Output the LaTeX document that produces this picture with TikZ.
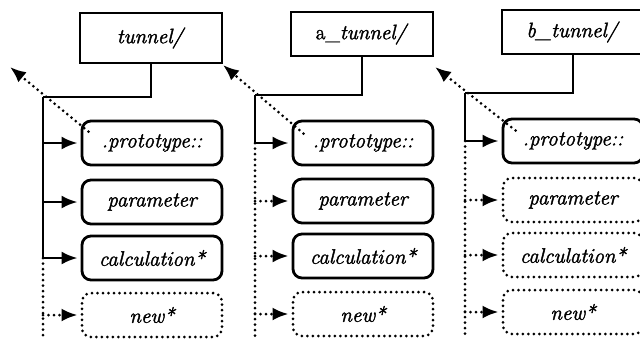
\documentclass[tikz,border=0pt]{standalone}
\usepackage{fontspec}
\setmainfont{Latin Modern Roman}[UprightFeatures={FakeBold=1.8},ItalicFeatures={FakeBold=1.8}]
\usetikzlibrary{arrows.meta,calc}
\newcommand\figfont{\fontsize{21}{25}\selectfont}
\begin{document}
\begin{tikzpicture}[x=1pt,y=-1pt,
  dirbox/.style={draw, line width=2.8pt, minimum width=142pt, minimum height=44pt, inner sep=0pt, font=\figfont},
  filebox/.style={draw, rounded corners=9pt, line width=2.8pt, minimum width=140pt, minimum height=44pt, inner sep=0pt, font=\figfont\itshape},
  dotbox/.style={filebox, line width=3pt, line cap=round, dash pattern=on 0pt off 5.5pt},
  link/.style={line width=2.8pt},
  dotlink/.style={line width=3pt, line cap=round, dash pattern=on 0pt off 5.5pt},
  tip/.style={-{Latex[length=16pt,width=13pt]}},
  short/.style={shorten >=3pt}]
\useasboundingbox (0,0) rectangle (640,338);
\coordinate (bot) at (0,338);
% ---------- column 1
\node[dirbox, minimum height=50pt] (d1) at (151,38) {\textit{tunnel/}};
\node[filebox] (p1) at (152,143) {.prototype::};
\node[filebox] (m1) at (152,202) {parameter};
\node[filebox] (k1) at (152,258) {calculation*};
\node[dotbox]  (n1) at (152,315) {new*};
\coordinate (c1) at (43,97);
\coordinate (t1) at (10,67);
\draw[link] (d1.south) |- (c1);
\draw[link] (c1) -- (c1 |- k1.west);
\draw[dotlink] (c1 |- k1.west) -- (c1 |- bot);
\draw[link,tip,short] (c1 |- p1.west) -- (p1.west);
\draw[link,tip,short] (c1 |- m1.west) -- (m1.west);
\draw[link,tip,short] (c1 |- k1.west) -- (k1.west);
\draw[dotlink,tip,short] (c1 |- n1.west) -- (n1.west);
\draw[dotlink,tip] ($(p1.north west)+(8,12)$) -- (t1);
% ---------- column 2
\node[dirbox] (d2) at (362,34) {a\_\textit{tunnel/}};
\node[filebox] (p2) at (363,143) {.prototype::};
\node[filebox] (m2) at (363,201) {parameter};
\node[filebox] (k2) at (363,256) {calculation*};
\node[dotbox]  (n2) at (363,314) {new*};
\coordinate (c2) at (255,95);
\coordinate (t2) at (223,65);
\draw[link] (d2.south) |- (c2);
\draw[link] (c2) -- (c2 |- p2.west);
\draw[dotlink] (c2 |- p2.west) -- (c2 |- bot);
\draw[link,tip,short] (c2 |- p2.west) -- (p2.west);
\draw[dotlink,tip,short] (c2 |- m2.west) -- (m2.west);
\draw[dotlink,tip,short] (c2 |- k2.west) -- (k2.west);
\draw[dotlink,tip,short] (c2 |- n2.west) -- (n2.west);
\draw[dotlink,tip] ($(p2.north west)+(12,14)$) -- (t2);
% ---------- column 3
\node[dirbox] (d3) at (573,32) {\textit{b\_tunnel/}};
\node[filebox] (p3) at (573,141) {.prototype::};
\node[dotbox]  (m3) at (573,200) {parameter};
\node[dotbox]  (k3) at (573,255) {calculation*};
\node[dotbox]  (n3) at (573,312) {new*};
\coordinate (c3) at (465,93);
\coordinate (t3) at (435,67);
\draw[link] (d3.south) |- (c3);
\draw[link] (c3) -- (c3 |- p3.west);
\draw[dotlink] (c3 |- p3.west) -- (c3 |- bot);
\draw[link,tip,short] (c3 |- p3.west) -- (p3.west);
\draw[dotlink,tip,short] (c3 |- m3.west) -- (m3.west);
\draw[dotlink,tip,short] (c3 |- k3.west) -- (k3.west);
\draw[dotlink,tip,short] (c3 |- n3.west) -- (n3.west);
\draw[dotlink,tip] ($(p3.north west)+(14,13)$) -- (t3);
\end{tikzpicture}
\end{document}
